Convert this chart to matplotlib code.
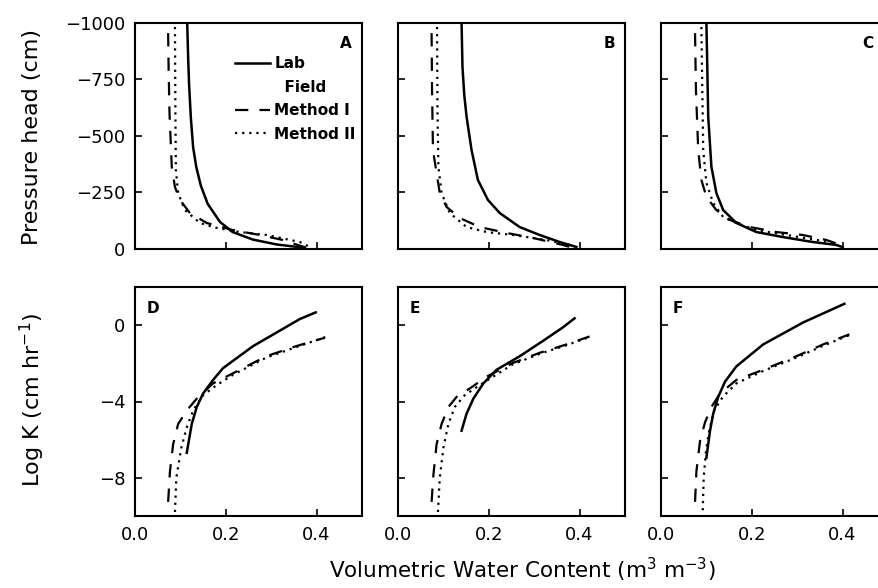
import numpy as np
import matplotlib
matplotlib.use("Agg")
from matplotlib import pyplot as plt
from matplotlib.lines import Line2D

plt.rcParams['font.family'] = ['DejaVu Sans']
plt.rcParams['mathtext.default'] = 'regular'

# water retention, top row (theta in m3/m3, pressure head in cm)
lab_a_theta = [0.115, 0.117, 0.119, 0.123, 0.128, 0.135, 0.145, 0.160, 0.187, 0.215, 0.259, 0.312, 0.358, 0.372]
lab_a_h = [-1000, -850, -733, -580, -450, -362, -280, -200, -120, -75, -42, -20, -9, 0]
m1_a_theta = [0.073, 0.074, 0.076, 0.081, 0.088, 0.099, 0.121, 0.158, 0.215, 0.275, 0.325, 0.358, 0.380]
m1_a_h = [-954, -800, -600, -362, -274, -217, -159, -115, -84, -62, -40, -18, -4]
m2_a_theta = [0.088, 0.089, 0.090, 0.095, 0.110, 0.143, 0.180, 0.231, 0.290, 0.363, 0.385]
m2_a_h = [-981, -600, -349, -247, -172, -115, -93, -75, -62, -31, -9]

lab_b_theta = [0.140, 0.142, 0.146, 0.151, 0.162, 0.176, 0.198, 0.224, 0.268, 0.312, 0.356, 0.393]
lab_b_h = [-1000, -806, -680, -585, -437, -305, -217, -159, -97, -62, -31, -9]
m1_b_theta = [0.074, 0.075, 0.077, 0.085, 0.092, 0.107, 0.136, 0.180, 0.239, 0.297, 0.363, 0.385]
m1_b_h = [-954, -700, -437, -336, -247, -186, -137, -97, -71, -49, -18, -5]
m2_b_theta = [0.086, 0.087, 0.089, 0.096, 0.114, 0.151, 0.195, 0.253, 0.327, 0.378, 0.390]
m2_b_h = [-981, -600, -364, -247, -159, -97, -75, -62, -40, -18, -8]

lab_c_theta = [0.100, 0.102, 0.104, 0.111, 0.122, 0.137, 0.166, 0.210, 0.268, 0.334, 0.386, 0.400]
lab_c_h = [-1000, -800, -585, -364, -247, -172, -115, -75, -53, -31, -18, -8]
m1_c_theta = [0.075, 0.077, 0.082, 0.089, 0.100, 0.122, 0.152, 0.196, 0.254, 0.312, 0.364, 0.400]
m1_c_h = [-954, -700, -437, -305, -230, -172, -128, -97, -75, -62, -40, -15]
m2_c_theta = [0.089, 0.091, 0.093, 0.100, 0.115, 0.137, 0.166, 0.210, 0.276, 0.342, 0.386]
m2_c_h = [-981, -700, -437, -292, -203, -141, -115, -84, -62, -40, -26]

# hydraulic conductivity, bottom row (log K in cm/hr)
lab_d_theta = [0.114, 0.125, 0.136, 0.150, 0.172, 0.194, 0.260, 0.363, 0.398]
lab_d_logk = [-6.69, -5.18, -4.29, -3.58, -2.87, -2.25, -1.10, 0.32, 0.67]
m1_d_theta = [0.073, 0.077, 0.084, 0.095, 0.114, 0.136, 0.172, 0.216, 0.289, 0.355, 0.418]
m1_d_logk = [-9.26, -7.66, -6.24, -5.18, -4.47, -3.85, -3.05, -2.52, -1.63, -1.10, -0.66]
m2_d_theta = [0.088, 0.091, 0.102, 0.114, 0.128, 0.150, 0.180, 0.216, 0.289, 0.355, 0.420]
m2_d_logk = [-9.79, -8.0, -6.42, -5.36, -4.47, -3.67, -3.14, -2.60, -1.70, -1.15, -0.62]

lab_e_theta = [0.140, 0.151, 0.166, 0.188, 0.217, 0.268, 0.319, 0.363, 0.389]
lab_e_logk = [-5.53, -4.64, -3.85, -3.05, -2.34, -1.63, -0.83, -0.12, 0.36]
m1_e_theta = [0.074, 0.078, 0.085, 0.096, 0.111, 0.129, 0.158, 0.195, 0.253, 0.312, 0.371, 0.422]
m1_e_logk = [-9.26, -7.84, -6.24, -5.18, -4.29, -3.76, -3.32, -2.70, -1.98, -1.45, -1.01, -0.59]
m2_e_theta = [0.088, 0.092, 0.100, 0.111, 0.125, 0.147, 0.180, 0.253, 0.312, 0.371, 0.422]
m2_e_logk = [-9.79, -8.0, -6.42, -5.18, -4.29, -3.67, -3.14, -2.05, -1.50, -1.05, -0.62]

lab_f_theta = [0.100, 0.108, 0.115, 0.126, 0.141, 0.166, 0.225, 0.313, 0.404]
lab_f_logk = [-6.95, -5.53, -4.64, -3.76, -2.96, -2.16, -1.01, 0.14, 1.12]
m1_f_theta = [0.075, 0.078, 0.086, 0.097, 0.111, 0.130, 0.166, 0.225, 0.298, 0.357, 0.415]
m1_f_logk = [-9.26, -7.66, -6.06, -5.09, -4.29, -3.58, -2.87, -2.34, -1.63, -1.01, -0.48]
m2_f_theta = [0.092, 0.094, 0.099, 0.106, 0.117, 0.136, 0.166, 0.225, 0.298, 0.357, 0.415]
m2_f_logk = [-9.70, -8.0, -6.6, -5.53, -4.47, -3.76, -3.05, -2.40, -1.70, -1.08, -0.52]

panel_letters = ['A', 'B', 'C', 'D', 'E', 'F']
h_ticks = [-1000, -750, -500, -250, 0]
logk_ticks = [0, -4, -8]
theta_ticks = [0.0, 0.2, 0.4]

panels = [
    (lab_a_theta, lab_a_h, m1_a_theta, m1_a_h, m2_a_theta, m2_a_h),
    (lab_b_theta, lab_b_h, m1_b_theta, m1_b_h, m2_b_theta, m2_b_h),
    (lab_c_theta, lab_c_h, m1_c_theta, m1_c_h, m2_c_theta, m2_c_h),
    (lab_d_theta, lab_d_logk, m1_d_theta, m1_d_logk, m2_d_theta, m2_d_logk),
    (lab_e_theta, lab_e_logk, m1_e_theta, m1_e_logk, m2_e_theta, m2_e_logk),
    (lab_f_theta, lab_f_logk, m1_f_theta, m1_f_logk, m2_f_theta, m2_f_logk),
]

SOLID = dict(color='black', lw=1.8, ls='-')
DASH = dict(color='black', lw=1.6, ls=(0, (6, 5)))
DOT = dict(color='black', lw=1.6, ls=(0, (1, 2.2)))

W, H = 879, 588
fig = plt.figure(figsize=(W / 100, H / 100), dpi=100)

lefts = [135, 398, 661]
pw = 227
rows = [(22.7, 249), (287, 516)]
letter_x = [0.955, 0.955, 0.935]

axes = []
for i in range(6):
    r, c = divmod(i, 3)
    top, bot = rows[r]
    ax = fig.add_axes([lefts[c] / W, 1 - bot / H, pw / W, (bot - top) / H])
    axes.append(ax)
    lt, ly, t1, y1, t2, y2 = panels[i]
    ax.plot(t2, y2, **DOT)
    ax.plot(t1, y1, **DASH)
    ax.plot(lt, ly, **SOLID)
    ax.set_xlim(0, 0.5)
    ax.set_xticks(theta_ticks)
    if r == 0:
        ax.set_ylim(0, -1000)
        ax.set_yticks(h_ticks)
        ax.text(letter_x[c], 0.94, panel_letters[i], transform=ax.transAxes, ha='right', va='top',
                fontsize=11, fontweight='bold')
    else:
        ax.set_ylim(-10, 2)
        ax.set_yticks(logk_ticks)
        ax.text(0.05, 0.94, panel_letters[i], transform=ax.transAxes, ha='left', va='top',
                fontsize=11, fontweight='bold')
    ax.tick_params(direction='in', length=5, width=1.2, labelsize=13, pad=7)
    for s in ax.spines.values():
        s.set_linewidth(1.5)
    if r == 0:
        ax.tick_params(labelbottom=False)
    else:
        ax.set_xticklabels(['0.0', '0.2', '0.4'])
    if c != 0:
        ax.tick_params(labelleft=False)

# legend in panel A
handles = [Line2D([], [], **SOLID),
           Line2D([], [], color='none'),
           Line2D([], [], **DASH),
           Line2D([], [], **DOT)]
labels = ['Lab', '  Field', 'Method I', 'Method II']
leg = axes[0].legend(handles, labels, loc='upper left', bbox_to_anchor=(0.405, 0.885),
                     frameon=False, handlelength=2.35, handletextpad=0.25, labelspacing=0.55,
                     borderpad=0, prop=dict(size=11, weight='bold'))

fig.text(32 / W, 1 - 137 / H, 'Pressure head (cm)', rotation=90, ha='center', va='center', fontsize=16)
fig.text(32 / W, 1 - 400 / H, 'Log K (cm hr$^{-1}$)', rotation=90, ha='center', va='center', fontsize=16)
fig.text(522 / W, 4 / H, 'Volumetric Water Content (m$^3$ m$^{-3}$)', ha='center', va='bottom',
         fontsize=15.5)

fig.savefig('out.png', dpi=100)
